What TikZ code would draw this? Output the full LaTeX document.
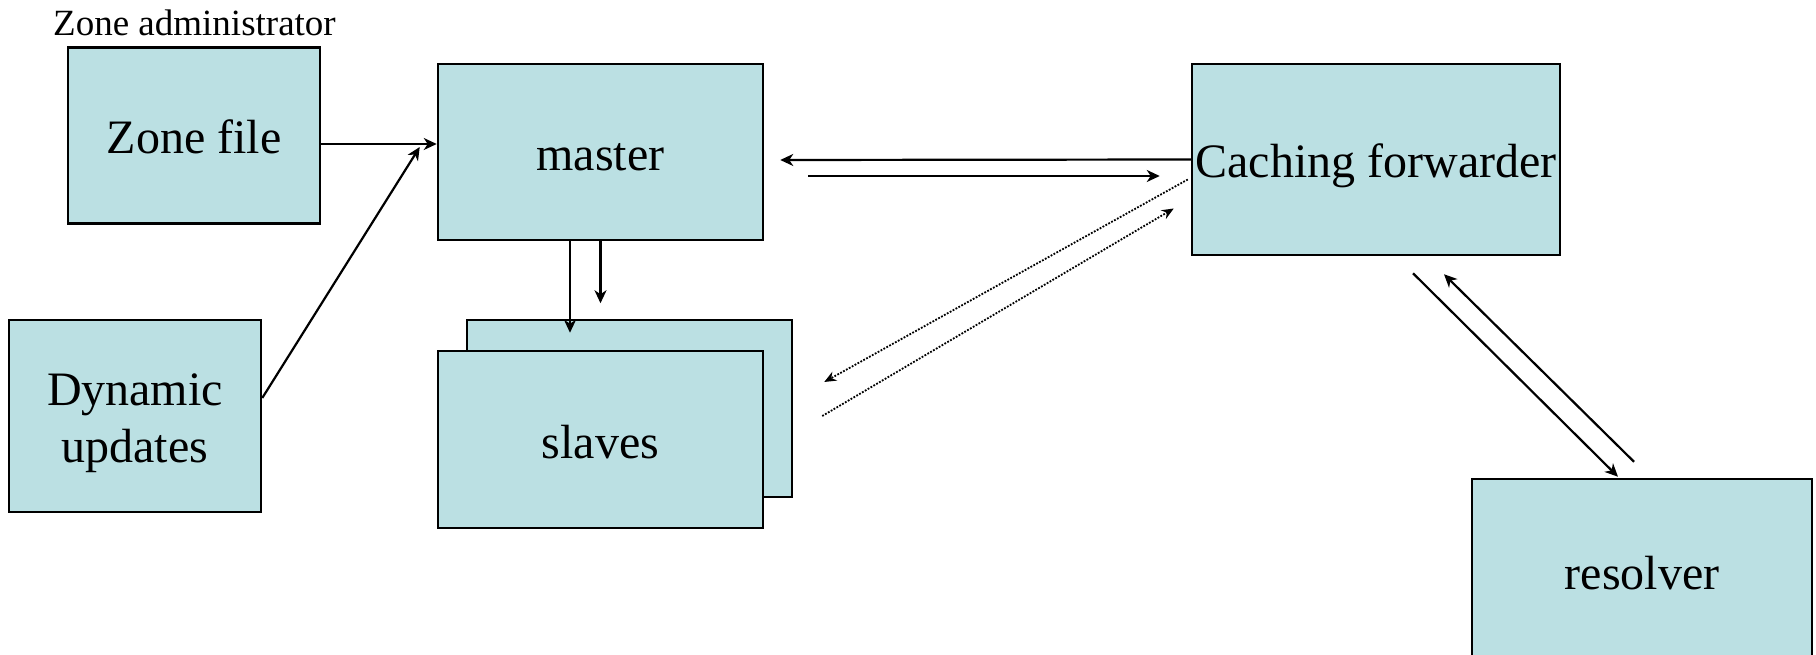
\documentclass[tikz,border=0pt]{standalone}
\usepackage{fontspec}
\setmainfont{Liberation Serif}
\usetikzlibrary{arrows.meta,calc}
\definecolor{boxfill}{HTML}{BBE0E3}
\tikzset{
  box/.style={draw=black, fill=boxfill, line width=2.5pt, inner sep=0pt, align=center,
    font=\fontsize{48}{57}\selectfont, text height=37pt, text depth=0pt},
  arr/.style={line width=2.2pt, -{Stealth[length=13pt,width=12pt,inset=4pt]}},
  dotarr/.style={line width=1.8pt, dash pattern=on 1.8pt off 1.5pt,
    -{Stealth[length=12pt,width=10pt,inset=4pt]}},
}
\begin{document}
\begin{tikzpicture}[x=1pt,y=-1pt]
\useasboundingbox (0,0) rectangle (1816,655);
\clip (0,0) rectangle (1816,655);
\node[box, minimum width=252pt, minimum height=176pt] (zf) at (194,135.5) {Zone file};
\node[box, minimum width=325pt, minimum height=176pt] (master) at (600.5,152) {master};
\node[box, minimum width=252pt, minimum height=192pt, text height=92pt, text depth=0pt] (dyn) at (135,416) {Dynamic\\updates};
\node[box, minimum width=325pt, minimum height=177pt] (slback) at (629.5,408.5) {};
\node[box, minimum width=325pt, minimum height=177pt] (slaves) at (600.5,439.5) {slaves};
\node[box, minimum width=368pt, minimum height=191pt] (cf) at (1376,159.5) {Caching forwarder};
\node[box, minimum width=340pt, minimum height=184pt] (res) at (1642,571) {resolver};
\node[anchor=base west, inner sep=0pt, font=\fontsize{37}{40}\selectfont] (admin) at (53,36) {Zone administrator};
% connectors
\draw[arr] ($(zf.east)+(0,8.5)$) -- ($(master.west)+(0,-8)$);
\draw[arr] ($(dyn.east)+(0,-18)$) -- ($(master.west)+(-17,-5)$);
\draw[arr] ($(master.south)+(-30.5,0)$) -- ($(slback.north)+(-59.5,14)$);
\draw[arr] (master.south) -- ($(master.south)+(0,62)$);
\draw[arr] (cf.west) -- ($(master.east)+(16,8)$);
\draw[arr] ($(master.east)+(44,24)$) -- ($(cf.west)+(-31,16.5)$);
\draw[dotarr] ($(cf.west)+(-3,20)$) -- ($(slback.east)+(31,-26.5)$);
\draw[dotarr] ($(slback.east)+(29,7.5)$) -- ($(cf.west)+(-17,49)$);
\draw[arr] ($(cf.south)+(37,17)$) -- ($(res.north)+(-24,-1)$);
\draw[arr] ($(res.north)+(-8,-16)$) -- ($(cf.south)+(68,18)$);
\end{tikzpicture}
\end{document}
